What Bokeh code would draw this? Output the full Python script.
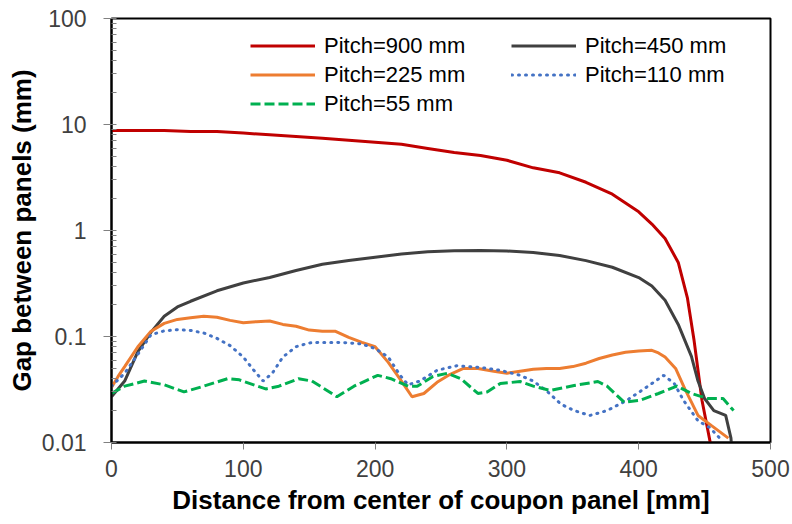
from bokeh.plotting import figure
from bokeh.models import Range1d, FixedTicker, CustomJSTickFormatter, Legend, LegendItem
from bokeh.embed import file_html
from bokeh.resources import INLINE

# ---- data ----
x900 = [0, 20, 40, 60, 80, 100, 120, 140, 160, 180, 200, 220, 240, 260, 280, 300,
        320, 340, 360, 380, 400, 410, 420, 430, 437, 442, 448, 455]
y900 = [8.8, 8.8, 8.8, 8.6, 8.6, 8.3, 8.0, 7.7, 7.4, 7.1, 6.8, 6.5, 5.95, 5.45, 5.1, 4.6,
        3.9, 3.5, 2.85, 2.2, 1.5, 1.15, 0.84, 0.5, 0.23, 0.092, 0.025, 0.009]

x450 = [0, 10, 20, 30, 40, 50, 60, 80, 100, 120, 140, 160, 180, 200, 220, 240, 260, 280,
        300, 320, 340, 360, 380, 400, 410, 420, 430, 440, 445, 450, 457, 466, 470, 472]
y450 = [0.027, 0.038, 0.072, 0.11, 0.155, 0.19, 0.215, 0.27, 0.32, 0.36, 0.42, 0.48, 0.52,
        0.56, 0.6, 0.63, 0.645, 0.648, 0.64, 0.62, 0.58, 0.52, 0.45, 0.36, 0.3, 0.22, 0.13,
        0.065, 0.038, 0.026, 0.02, 0.018, 0.011, 0.005]

x225 = [0, 5, 10, 20, 30, 40, 50, 60, 70, 80, 90, 100, 110, 120, 130, 140, 150, 160, 170,
        180, 190, 200, 210, 220, 228, 237, 247, 257, 267, 278, 290, 300, 310, 320, 330, 340,
        350, 360, 370, 380, 390, 400, 410, 415, 420, 428, 435, 445, 455, 468]
y225 = [0.033, 0.042, 0.052, 0.08, 0.112, 0.133, 0.145, 0.15, 0.155, 0.152, 0.142, 0.135,
        0.138, 0.14, 0.13, 0.125, 0.115, 0.112, 0.112, 0.098, 0.088, 0.08, 0.057, 0.038,
        0.027, 0.029, 0.037, 0.044, 0.05, 0.05, 0.047, 0.045, 0.047, 0.049, 0.05, 0.05,
        0.052, 0.056, 0.062, 0.067, 0.071, 0.073, 0.074, 0.07, 0.064, 0.05, 0.032, 0.018,
        0.0145, 0.011]

x110 = [0, 10, 20, 30, 40, 50, 60, 70, 80, 90, 100, 108, 115, 122, 130, 140, 150, 160, 170,
        180, 190, 200, 210, 219, 225, 234, 247, 262, 280, 295, 310, 320, 331, 341, 351, 363,
        376, 391, 404, 419, 427, 434, 445, 454, 463]
y110 = [0.034, 0.045, 0.068, 0.104, 0.113, 0.116, 0.114, 0.108, 0.096, 0.082, 0.064, 0.048,
        0.038, 0.045, 0.064, 0.08, 0.087, 0.088, 0.088, 0.087, 0.085, 0.077, 0.064, 0.043,
        0.035, 0.038, 0.048, 0.053, 0.051, 0.048, 0.043, 0.038, 0.03, 0.023, 0.02, 0.018,
        0.02, 0.025, 0.032, 0.043, 0.036, 0.025, 0.016, 0.0138, 0.0105]

x55 = [0, 10, 25, 40, 55, 70, 88, 97, 117, 127, 142, 152, 160, 171, 184, 202, 212, 225, 232,
       244, 255, 265, 278, 285, 295, 310, 320, 333, 351, 369, 376, 389, 401, 415, 429, 440,
       452, 464, 472]
y55 = [0.029, 0.034, 0.038, 0.035, 0.03, 0.034, 0.04, 0.039, 0.032, 0.034, 0.04, 0.038,
       0.033, 0.027, 0.034, 0.043, 0.04, 0.034, 0.034, 0.042, 0.045, 0.04, 0.029, 0.03,
       0.036, 0.0376, 0.034, 0.031, 0.0345, 0.0376, 0.034, 0.024, 0.025, 0.029, 0.034,
       0.029, 0.026, 0.026, 0.02]

labels = ["Pitch=900 mm", "Pitch=450 mm", "Pitch=225 mm", "Pitch=110 mm", "Pitch=55 mm"]
x_ticks = [0, 100, 200, 300, 400, 500]
y_ticks = [0.01, 0.1, 1, 10, 100]

FONT = "Liberation Sans"

p = figure(width=792, height=524, y_axis_type="log",
           x_range=Range1d(0, 500), y_range=Range1d(0.01, 100),
           output_backend="svg", toolbar_location=None,
           min_border_left=111, min_border_right=22, min_border_top=18, min_border_bottom=82)
p.grid.visible = False
p.outline_line_color = "black"
p.outline_line_width = 2
p.background_fill_color = "white"
p.border_fill_color = "white"

r900 = p.line(x900, y900, line_color="#C00000", line_width=3)
r450 = p.line(x450, y450, line_color="#404040", line_width=3)
r225 = p.line(x225, y225, line_color="#ED7D31", line_width=3)
r110 = p.line(x110, y110, line_color="#4472C4", line_width=3, line_dash="1 6", line_cap="round")
r55 = p.line(x55, y55, line_color="#00B050", line_width=3, line_dash="10 4")

# axes
xa = p.xaxis[0]
xa.ticker = FixedTicker(ticks=x_ticks)
xa.axis_label = "Distance from center of coupon panel [mm]"
xa.axis_label_text_font = FONT
xa.axis_label_text_font_style = "bold"
xa.axis_label_text_font_size = "26px"
xa.axis_label_text_color = "black"
xa.axis_label_standoff = 5
xa.major_label_text_font = FONT
xa.major_label_text_font_size = "23px"
xa.major_label_text_color = "#404040"
xa.major_label_standoff = 10
xa.major_tick_in = 0
xa.major_tick_out = 7
xa.minor_tick_in = 0
xa.minor_tick_out = 0
xa.major_tick_line_color = "#808080"
xa.axis_line_color = "black"
xa.axis_line_width = 2

minor = []
for d in y_ticks[:-1]:
    for k in range(2, 10):
        minor.append(d * k)

ya = p.yaxis[0]
ya.ticker = FixedTicker(ticks=y_ticks, minor_ticks=minor)
ya.formatter = CustomJSTickFormatter(code="return String(Number(tick.toPrecision(6)));")
ya.axis_label = "Gap between panels (mm)"
ya.axis_label_text_font = FONT
ya.axis_label_text_font_style = "bold"
ya.axis_label_text_font_size = "26px"
ya.axis_label_text_color = "black"
ya.axis_label_standoff = 2
ya.major_label_text_font = FONT
ya.major_label_text_font_size = "23px"
ya.major_label_text_color = "#404040"
ya.major_label_standoff = 17
ya.major_tick_in = 5
ya.major_tick_out = 8
ya.minor_tick_in = 5
ya.minor_tick_out = 0
ya.major_tick_line_color = "#808080"
ya.minor_tick_line_color = "#808080"
ya.axis_line_color = "black"
ya.axis_line_width = 2

def make_legend(items, loc):
    leg = Legend(items=items, location=loc, orientation="vertical")
    leg.border_line_alpha = 0
    leg.background_fill_alpha = 0
    leg.padding = 0
    leg.margin = 0
    leg.spacing = 0
    leg.glyph_width = 65
    leg.glyph_height = 29
    leg.label_height = 29
    leg.label_standoff = 9
    leg.label_text_font = FONT
    leg.label_text_font_size = "22px"
    leg.label_text_color = "black"
    return leg

leg1 = make_legend([LegendItem(label=labels[0], renderers=[r900]),
                    LegendItem(label=labels[2], renderers=[r225]),
                    LegendItem(label=labels[4], renderers=[r55])], (139, 324))
leg2 = make_legend([LegendItem(label=labels[1], renderers=[r450]),
                    LegendItem(label=labels[3], renderers=[r110])], (400, 353))
p.add_layout(leg1, "center")
p.add_layout(leg2, "center")

open("out.html", "w").write(file_html(p, INLINE))
